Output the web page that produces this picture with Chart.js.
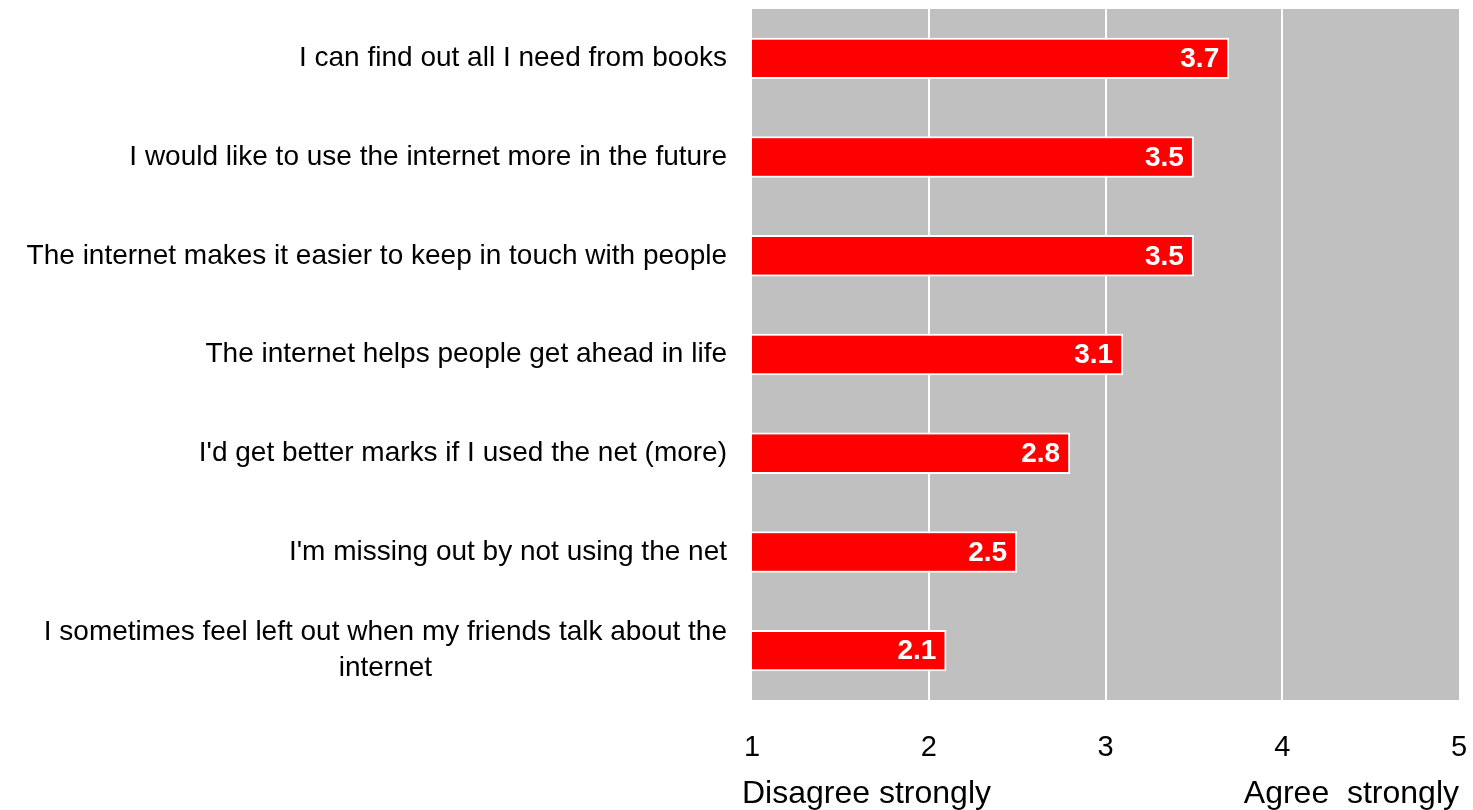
<!DOCTYPE html>
<html>
<head>
<meta charset="utf-8">
<script src="https://cdn.jsdelivr.net/npm/chart.js@4/dist/chart.umd.min.js"></script>
<style>
html,body{margin:0;padding:0;background:#fff}
#wrap{width:1473px;height:810px}
</style>
</head>
<body>
<div id="wrap"><canvas id="c"></canvas></div>
<script>
const statements=[
 ['I can find out all I need from books'],
 ['I would like to use the internet more in the future'],
 ['The internet makes it easier to keep in touch with people'],
 ['The internet helps people get ahead in life'],
 ["I'd get better marks if I used the net (more)"],
 ["I'm missing out by not using the net"],
 ['I sometimes feel left out when my friends talk about the','internet']
];
const scores=[3.7,3.5,3.5,3.1,2.8,2.5,2.1];
const scaleTicks=[1,2,3,4,5];
const endLabels=['Disagree strongly','Agree  strongly'];

const FONT='"Liberation Sans", Arial, sans-serif';
Chart.defaults.color='#000';
Chart.defaults.font.family=FONT;

// grey plot panel behind the grid
const panel={id:'panel',beforeDraw(ch){const a=ch.chartArea,g=ch.ctx;g.save();g.fillStyle='#c0c0c0';g.fillRect(a.left,a.top,a.right-a.left,a.bottom-a.top);g.restore();}};

// statements on the left, value labels inside bars, scale end captions
const texts={id:'texts',afterDraw(ch){
 const g=ch.ctx,y=ch.scales.y,a=ch.chartArea;
 g.save();
 g.font='28px '+FONT;g.fillStyle='#000';g.textBaseline='middle';g.textAlign='center';
 statements.forEach((lines,i)=>{
  const cy=y.getPixelForValue(i),lh=36;
  const w=Math.max(...lines.map(l=>g.measureText(l).width));
  const cx=a.left-25-w/2;
  lines.forEach((l,k)=>g.fillText(l,cx,cy+(k-(lines.length-1)/2)*lh));
 });
 g.font='bold 28px '+FONT;g.fillStyle='#fff';g.textAlign='right';
 ch.getDatasetMeta(0).data.forEach((bar,i)=>{g.fillText(scores[i].toFixed(1),bar.x-10,bar.y+1);});
 g.font='32px '+FONT;g.fillStyle='#000';
 g.textAlign='left';g.fillText(endLabels[0],a.left-10,a.bottom+94);
 g.textAlign='right';g.fillText(endLabels[1],a.right,a.bottom+94);
 g.restore();
}};

new Chart(document.getElementById('c'),{
 type:'bar',
 data:{labels:statements.map(s=>s.join(' ')),datasets:[{data:scores,backgroundColor:'#ff0000',borderColor:'#ffffff',borderWidth:2,barPercentage:0.42,categoryPercentage:1}]},
 options:{
  indexAxis:'y',responsive:true,maintainAspectRatio:false,animation:false,
  layout:{padding:{top:9,right:0,left:0,bottom:0}},
  plugins:{legend:{display:false},tooltip:{enabled:false}},
  scales:{
   x:{min:1,max:5,afterBuildTicks(s){s.ticks=scaleTicks.map(v=>({value:v}));},
      afterFit(s){s.height=110;s.paddingLeft=0;s.paddingRight=14;},
      border:{display:false},
      grid:{drawTicks:false,lineWidth:2,color:c=>(c.tick&&c.tick.value>1&&c.tick.value<5)?'#ffffff':'rgba(0,0,0,0)'},
      ticks:{font:{size:29},padding:31,color:'#000'}},
   y:{afterFit(s){s.width=752;},border:{display:false},grid:{display:false},ticks:{display:false}}
  }
 },
 plugins:[panel,texts]
});
</script>
</body>
</html>
